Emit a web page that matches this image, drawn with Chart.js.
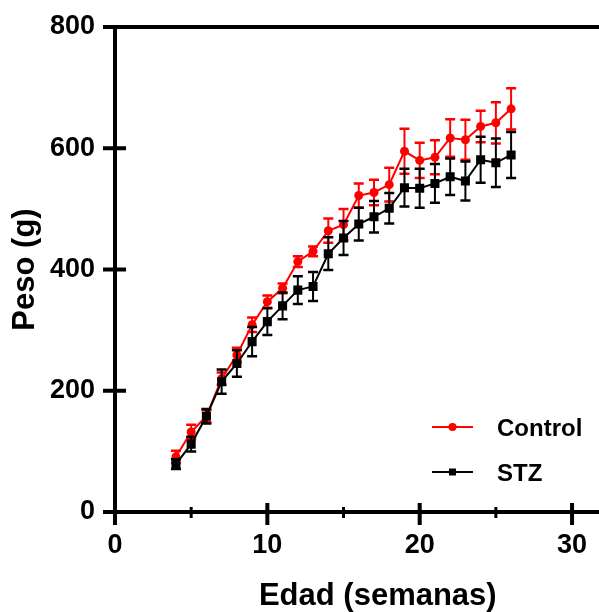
<!DOCTYPE html>
<html>
<head>
<meta charset="utf-8">
<script src="https://cdn.jsdelivr.net/npm/chart.js@4.4.1/dist/chart.umd.min.js"></script>
<style>
  html, body { margin: 0; padding: 0; overflow: hidden; background: #fff; }
  #wrap { width: 647px; height: 612px; }
</style>
</head>
<body>
<div id="wrap"><canvas id="weightChart" width="647" height="612"></canvas></div>
<script>
// ===== data =====
const weeks = [4, 5, 6, 7, 8, 9, 10, 11, 12, 13, 14, 15, 16, 17, 18, 19, 20, 21, 22, 23, 24, 25, 26];
const controlMean = [91, 132, 158, 220, 259, 309, 347, 369, 413, 430, 464, 474, 522, 527, 540, 595, 580, 585, 617, 614, 636, 642, 665];
const controlSD   = [10, 12, 10, 10, 12, 12, 10, 8, 9, 8, 20, 26, 20, 21, 28, 37, 29, 28, 31, 33, 26, 34, 34];
const stzMean = [79, 112, 158, 215, 245, 281, 314, 340, 366, 372, 426, 452, 475, 487, 501, 535, 534, 542, 553, 546, 581, 576, 589];
const stzSD   = [8, 12, 12, 20, 22, 24, 22, 22, 23, 24, 27, 28, 27, 26, 25, 31, 32, 32, 30, 32, 38, 40, 38];

const xTicks = [0, 10, 20, 30];
const xMinorTicks = [5, 15, 25];
const yTicks = [0, 200, 400, 600, 800];
const seriesNames = ['Control', 'STZ'];

const FONT = '"Liberation Sans", Arial, sans-serif';
const RED = '#ff0000';
const BLACK = '#000000';

// ==================== PLUGINS ====================
// error bars, drawn just before each dataset's line so markers sit on top
const errorBars = {
  id: 'errorBars',
  beforeDatasetDraw(chart, args) {
    const ds = chart.data.datasets[args.index];
    if (!ds.errors) return;
    const yScale = chart.scales.y;
    const ctx = chart.ctx;
    ctx.save();
    ctx.strokeStyle = ds.borderColor;
    args.meta.data.forEach((pt, i) => {
      const v = ds.data[i].y;
      const top = yScale.getPixelForValue(v + ds.errors[i]);
      const bot = yScale.getPixelForValue(v - ds.errors[i]);
      ctx.lineWidth = 2;
      ctx.beginPath();
      ctx.moveTo(pt.x, top);
      ctx.lineTo(pt.x, bot);
      ctx.stroke();
      ctx.lineWidth = 2.5;
      ctx.beginPath();
      ctx.moveTo(pt.x - 5, top);
      ctx.lineTo(pt.x + 5, top);
      ctx.moveTo(pt.x - 5, bot);
      ctx.lineTo(pt.x + 5, bot);
      ctx.stroke();
    });
    ctx.restore();
  }
};

// axis lines with ticks crossing the axis (GraphPad style)
const axesPlugin = {
  id: 'axesPlugin',
  afterDraw(chart) {
    const { ctx, chartArea, scales: { x, y } } = chart;
    const x0 = x.getPixelForValue(0);
    const y0 = y.getPixelForValue(0);
    const yTop = y.getPixelForValue(800);
    ctx.save();
    ctx.strokeStyle = '#000';
    ctx.lineCap = 'butt';
    ctx.lineWidth = 4;

    // y axis
    ctx.beginPath();
    ctx.moveTo(x0, yTop - 2);
    ctx.lineTo(x0, y0 + 13);
    ctx.stroke();
    // x axis
    ctx.beginPath();
    ctx.moveTo(x0 - 12, y0);
    ctx.lineTo(chartArea.right + 10, y0);
    ctx.stroke();

    // y ticks (top one runs across)
    yTicks.forEach(v => {
      const py = y.getPixelForValue(v);
      ctx.beginPath();
      ctx.moveTo(x0 - 12, py);
      ctx.lineTo(v === 800 ? chartArea.right + 10 : x0 + 11, py);
      ctx.stroke();
    });

    // x major ticks
    xTicks.forEach(v => {
      const px = x.getPixelForValue(v);
      ctx.beginPath();
      ctx.moveTo(px, y0 - 9);
      ctx.lineTo(px, y0 + 13);
      ctx.stroke();
    });
    // x minor ticks
    ctx.lineWidth = 3;
    xMinorTicks.forEach(v => {
      const px = x.getPixelForValue(v);
      ctx.beginPath();
      ctx.moveTo(px, y0 - 5);
      ctx.lineTo(px, y0 + 6);
      ctx.stroke();
    });
    ctx.restore();
  }
};

// legend in the lower right of the plot
const legendPlugin = {
  id: 'legendPlugin',
  afterDraw(chart) {
    const ctx = chart.ctx;
    const rows = [
      { name: seriesNames[0], color: RED, shape: 'circle', y: 427, ty: 429 },
      { name: seriesNames[1], color: BLACK, shape: 'rect', y: 472, ty: 474 }
    ];
    ctx.save();
    rows.forEach(r => {
      ctx.strokeStyle = r.color;
      ctx.fillStyle = r.color;
      ctx.lineWidth = 2;
      ctx.beginPath();
      ctx.moveTo(432, r.y);
      ctx.lineTo(473, r.y);
      ctx.stroke();
      if (r.shape === 'circle') {
        ctx.beginPath();
        ctx.arc(452.5, r.y, 4, 0, Math.PI * 2);
        ctx.fill();
      } else {
        ctx.fillRect(449, r.y - 3.5, 7, 7);
      }
      ctx.fillStyle = '#000';
      ctx.font = 'bold 24px ' + FONT;
      ctx.textAlign = 'left';
      ctx.textBaseline = 'middle';
      ctx.fillText(r.name, 497, r.ty);
    });
    ctx.restore();
  }
};

// ==================== CHART ====================
function toPoints(xs, ys) {
  return xs.map((v, i) => ({ x: v, y: ys[i] }));
}

const chart = new Chart(document.getElementById('weightChart'), {
  type: 'line',
  data: {
    datasets: [
      {
        label: seriesNames[0],
        data: toPoints(weeks, controlMean),
        errors: controlSD,
        borderColor: RED,
        backgroundColor: RED,
        borderWidth: 2,
        pointStyle: 'circle',
        pointRadius: 4.5,
        pointBorderWidth: 0,
        tension: 0,
        order: 2
      },
      {
        label: seriesNames[1],
        data: toPoints(weeks, stzMean),
        errors: stzSD,
        borderColor: BLACK,
        backgroundColor: BLACK,
        borderWidth: 2,
        pointStyle: 'rect',
        pointRadius: 6.4,
        pointBorderWidth: 0,
        tension: 0,
        order: 1
      }
    ]
  },
  options: {
    responsive: false,
    animation: false,
    devicePixelRatio: 1,
    layout: { padding: { top: 27, right: 0, left: 0, bottom: 0 } },
    plugins: {
      legend: { display: false },
      tooltip: { enabled: false }
    },
    scales: {
      x: {
        type: 'linear',
        min: 0,
        max: 34.5,
        afterBuildTicks: s => { s.ticks = xTicks.map(v => ({ value: v })); },
        afterFit: s => { s.height = 100; s.paddingLeft = 0; s.paddingRight = 0; },
        grid: { display: false, drawTicks: false },
        border: { display: false },
        ticks: {
          color: '#000',
          padding: 17,
          maxRotation: 0,
          font: { family: FONT, size: 27, weight: 'bold' }
        },
        title: {
          display: true,
          text: 'Edad (semanas)',
          color: '#000',
          padding: { top: 0, bottom: 0 },
          font: { family: FONT, size: 31, weight: 'bold', lineHeight: 1 }
        }
      },
      y: {
        min: 0,
        max: 800,
        afterBuildTicks: s => { s.ticks = yTicks.map(v => ({ value: v })); },
        afterFit: s => { s.width = 115; s.paddingTop = 0; s.paddingBottom = 0; },
        grid: { display: false, drawTicks: false },
        border: { display: false },
        ticks: {
          color: '#000',
          padding: 20,
          font: { family: FONT, size: 27, weight: 'bold' }
        },
        title: {
          display: true,
          text: 'Peso (g)',
          color: '#000',
          padding: { top: 7, bottom: 0 },
          font: { family: FONT, size: 31, weight: 'bold' }
        }
      }
    }
  },
  plugins: [errorBars, axesPlugin, legendPlugin]
});
</script>
</body>
</html>
